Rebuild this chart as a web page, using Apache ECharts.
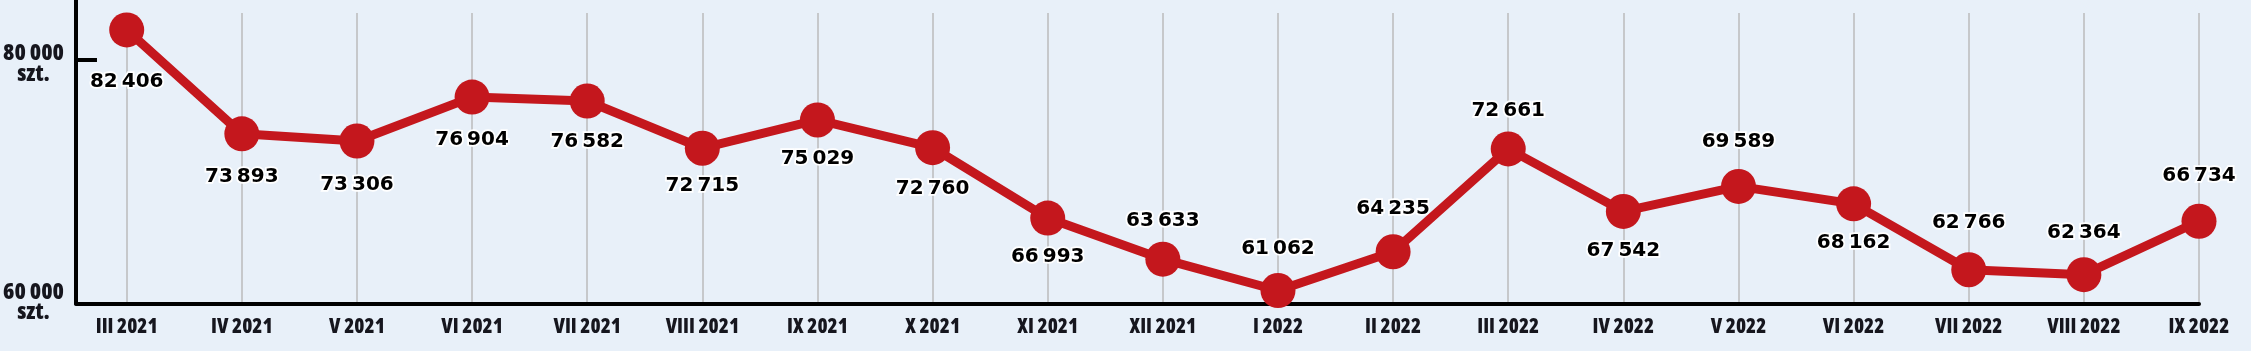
<!DOCTYPE html>
<html>
<head>
<meta charset="utf-8">
<script src="https://cdn.jsdelivr.net/npm/echarts@6/dist/echarts.min.js"></script>
<style>
html,body{margin:0;padding:0;background:#e8f0f9;}
#c{width:2251px;height:351px;}
</style>
</head>
<body>
<div id="c"></div>
<script>
// ---- data ----
const categories = ['III 2021','IV 2021','V 2021','VI 2021','VII 2021','VIII 2021','IX 2021','X 2021','XI 2021','XII 2021','I 2022','II 2022','III 2022','IV 2022','V 2022','VI 2022','VII 2022','VIII 2022','IX 2022'];
const sales = [82406,73893,73306,76904,76582,72715,75029,72760,66993,63633,61062,64235,72661,67542,69589,68162,62766,62364,66734];
const yTicks = [60000, 80000];
const yUnit = 'szt.';
// ---- style: vertical shift (px) of each value label from its point ----
const labelShift = [52,43,44,43,41,38,39,41,39,-38,-42,-43,-38,39,-45,39,-47,-42,-45];

const condensed = "'Open Sans',sans-serif";
const fmt = (v, sep) => String(v).replace(/\B(?=(\d{3})+(?!\d))/g, sep);
const RED = '#c4171d';
const INK = '#16161e';

const xFont = {fontFamily: condensed, fontStyle: 'condensed', fontWeight: 800, fontSize: 20.5, color: INK};
const yFont = {fontFamily: condensed, fontStyle: 'condensed', fontWeight: 800, fontSize: 23, color: INK, align: 'center'};

const chart = echarts.init(document.getElementById('c'), null, {renderer: 'canvas'});
chart.setOption({
  backgroundColor: '#e8f0f9',
  animation: false,
  grid: [
    {left: 69.5, right: 52, top: 0, bottom: 47.5},
    {left: 126.7, right: 52, top: 13, bottom: 47.5}
  ],
  xAxis: [
    {
      gridIndex: 0, type: 'value', min: 0, max: 1,
      axisLine: {show: true, onZero: false, lineStyle: {color: '#000', width: 4}},
      axisTick: {show: false}, axisLabel: {show: false}, splitLine: {show: false}
    },
    {
      gridIndex: 1, type: 'category', data: categories, boundaryGap: false,
      axisLine: {show: false}, axisTick: {show: false},
      axisLabel: Object.assign({interval: 0, margin: 13}, xFont),
      splitLine: {show: true, interval: 0, lineStyle: {color: '#c6c8cb', width: 2}}
    }
  ],
  yAxis: [
    {
      gridIndex: 0, type: 'value', min: 60000, max: 84860, interval: 20000,
      axisLine: {show: true, onZero: false, lineStyle: {color: '#000', width: 4}},
      axisTick: {show: true, inside: true, length: 21, customValues: yTicks, lineStyle: {color: '#000', width: 4}},
      splitLine: {show: false},
      axisLabel: {
        customValues: yTicks, margin: 12,
        formatter: v => {
          if (yTicks.indexOf(v) < 0) return '';
          const low = v === yTicks[0];
          return '{' + (low ? 'c' : 'a') + '|' + fmt(v, ' ') + '}\n{' + (low ? 'd' : 'b') + '|' + yUnit + '}';
        },
        rich: {
          a: Object.assign({lineHeight: 30}, yFont),
          b: Object.assign({lineHeight: 11}, yFont),
          c: Object.assign({lineHeight: 18}, yFont),
          d: Object.assign({lineHeight: 22}, yFont)
        }
      }
    },
    {gridIndex: 1, type: 'value', min: 60000, max: 83790, show: false}
  ],
  series: [{
    type: 'line',
    xAxisIndex: 1, yAxisIndex: 1,
    clip: false,
    symbol: 'circle', symbolSize: 35,
    itemStyle: {color: RED},
    lineStyle: {color: RED, width: 9},
    label: {
      show: true, position: 'inside',
      fontFamily: "'DejaVu Sans',sans-serif", fontWeight: 'bold', fontSize: 20,
      color: '#000', textBorderColor: '#fff', textBorderWidth: 3.5,
      formatter: p => fmt(p.value, '\u2009')
    },
    data: sales.map((v, i) => ({value: v, label: {offset: [0, labelShift[i]]}}))
  }]
});
</script>
</body>
</html>
